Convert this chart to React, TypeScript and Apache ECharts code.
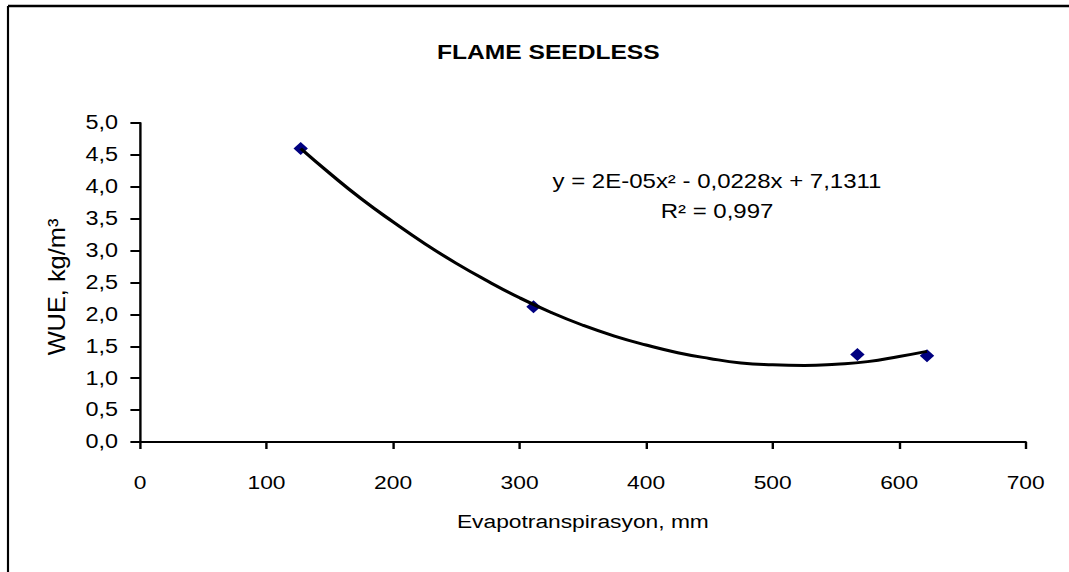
import React, { useEffect, useRef } from "react";
import * as echarts from "echarts";

const titleText = "FLAME SEEDLESS";
const xAxisName = "Evapotranspirasyon, mm";
const yAxisName = "WUE, kg/m³";
const equationLines = ["y = 2E-05x² - 0,0228x + 7,1311", "R² = 0,997"];

const pointsX = [127, 311, 567, 622];
const pointsY = [4.6, 2.12, 1.37, 1.35];

const trendX = [127, 150, 175, 200, 225, 250, 275, 300, 325, 350, 375, 400, 425, 450, 475, 500, 525, 550, 575, 600, 622];
const trendY = [4.6, 4.21, 3.81, 3.45, 3.11, 2.8, 2.52, 2.26, 2.03, 1.83, 1.66, 1.52, 1.4, 1.31, 1.24, 1.21, 1.2, 1.22, 1.26, 1.34, 1.42];

const xTickLabels = ["0", "100", "200", "300", "400", "500", "600", "700"];
const yTickLabels = ["0,0", "0,5", "1,0", "1,5", "2,0", "2,5", "3,0", "3,5", "4,0", "4,5", "5,0"];

const FONT = "'Liberation Sans', Arial, sans-serif";
// the reference picture is stretched horizontally
const SX = 1.2;
const W = 1069 / SX;
const H = 572;

export default function App() {
  const ref = useRef<HTMLDivElement>(null);

  useEffect(() => {
    if (!ref.current) return;
    const chart = echarts.init(ref.current, undefined, { renderer: "svg" });
    const option = {
      animation: false,
      backgroundColor: "#ffffff",
      textStyle: { fontFamily: FONT, color: "#000" },
      title: {
        text: titleText,
        left: 437 / SX,
        top: 42,
        padding: 0,
        textStyle: { fontFamily: FONT, fontSize: 20.5, fontWeight: "bold", color: "#000" },
      },
      grid: { left: 140 / SX, right: 43.5 / SX, top: 123, bottom: 130 },
      xAxis: {
        type: "value",
        min: 0,
        max: 700,
        interval: 100,
        name: xAxisName,
        nameLocation: "middle",
        nameGap: 70,
        nameTextStyle: { fontFamily: FONT, fontSize: 19, color: "#000" },
        axisLine: { show: true, lineStyle: { color: "#000", width: 2 } },
        axisTick: { show: true, inside: false, length: 7, lineStyle: { color: "#000", width: 2 } },
        axisLabel: {
          margin: 31,
          fontFamily: FONT,
          fontSize: 19,
          color: "#000",
          formatter: (v: number) => xTickLabels[Math.round(v / 100)] ?? String(v),
        },
        splitLine: { show: false },
      },
      yAxis: {
        type: "value",
        min: 0,
        max: 5,
        interval: 0.5,
        axisLine: { show: true, lineStyle: { color: "#000", width: 2 } },
        axisTick: { show: true, inside: false, length: 8, lineStyle: { color: "#000", width: 2 } },
        axisLabel: {
          margin: 22 / SX,
          fontFamily: FONT,
          fontSize: 19.5,
          color: "#000",
          formatter: (v: number) => yTickLabels[Math.round(v * 2)] ?? String(v),
        },
        splitLine: { show: false },
      },
      graphic: [
        {
          type: "line",
          shape: { x1: 8 / SX, y1: 6, x2: W, y2: 6 },
          style: { stroke: "#000", lineWidth: 2.5 },
        },
        {
          type: "line",
          shape: { x1: 8 / SX, y1: 6, x2: 8 / SX, y2: H },
          style: { stroke: "#000", lineWidth: 1.8 },
        },
        {
          type: "text",
          x: 57 / SX,
          y: 287,
          rotation: Math.PI / 2,
          scaleX: 1.27,
          style: {
            text: yAxisName,
            fontFamily: FONT,
            fontSize: 20,
            fill: "#000",
            align: "center",
            verticalAlign: "middle",
          },
        },
        {
          type: "text",
          x: 717 / SX,
          y: 181,
          style: {
            text: equationLines[0],
            fontFamily: FONT,
            fontSize: 20,
            fill: "#000",
            align: "center",
            verticalAlign: "middle",
          },
        },
        {
          type: "text",
          x: 717 / SX,
          y: 211,
          style: {
            text: equationLines[1],
            fontFamily: FONT,
            fontSize: 20,
            fill: "#000",
            align: "center",
            verticalAlign: "middle",
          },
        },
      ],
      series: [
        {
          type: "scatter",
          data: pointsX.map((x, i) => [x, pointsY[i]]),
          symbol: "diamond",
          symbolSize: [12, 13],
          itemStyle: { color: "#000080", opacity: 1 },
          z: 2,
        },
        {
          type: "line",
          data: trendX.map((x, i) => [x, trendY[i]]),
          smooth: true,
          showSymbol: false,
          symbol: "none",
          lineStyle: { color: "#000", width: 3 },
          z: 3,
        },
      ],
    };
    chart.setOption(option);
    return () => chart.dispose();
  }, []);

  return (
    <div
      style={{
        position: "fixed",
        left: 0,
        top: 0,
        width: 1069,
        height: H,
        background: "#fff",
        overflow: "hidden",
      }}
    >
      <div
        ref={ref}
        style={{
          width: W,
          height: H,
          transform: `scaleX(${SX})`,
          transformOrigin: "0 0",
        }}
      />
    </div>
  );
}
